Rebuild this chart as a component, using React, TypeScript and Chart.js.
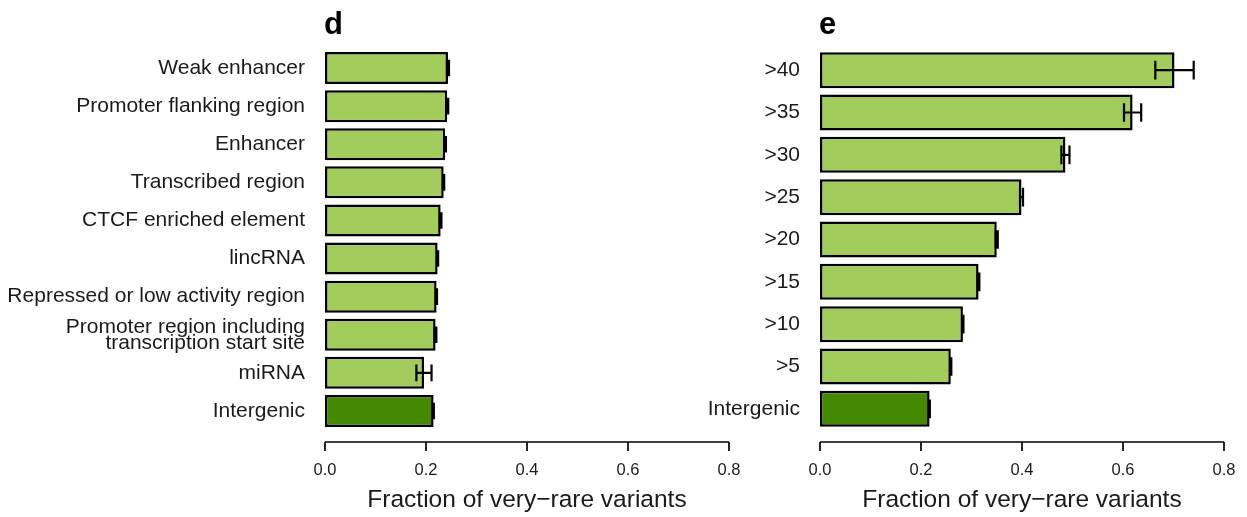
import React, { useEffect, useRef } from 'react';
import { Chart, registerables } from 'chart.js';

Chart.register(...registerables);

// ---------- data ----------
const leftCategories: (string | string[])[] = [
  'Weak enhancer',
  'Promoter flanking region',
  'Enhancer',
  'Transcribed region',
  'CTCF enriched element',
  'lincRNA',
  'Repressed or low activity region',
  ['Promoter region including', 'transcription start site'],
  'miRNA',
  'Intergenic',
];
const leftValues = [0.2435, 0.242, 0.238, 0.235, 0.229, 0.223, 0.221, 0.219, 0.196, 0.215];
const leftErrors = [0.002, 0.002, 0.0015, 0.001, 0.0015, 0.001, 0.0008, 0.0015, 0.015, 0.0005];

const rightCategories: string[] = ['>40', '>35', '>30', '>25', '>20', '>15', '>10', '>5', 'Intergenic'];
const rightValues = [0.702, 0.619, 0.486, 0.399, 0.35, 0.314, 0.283, 0.259, 0.217];
const rightErrors = [0.038, 0.017, 0.008, 0.003, 0.002, 0.0015, 0.001, 0.001, 0.0005];

const tickValues = [0, 0.2, 0.4, 0.6, 0.8];
const tickLabels = ['0.0', '0.2', '0.4', '0.6', '0.8'];
const axisTitle = 'Fraction of very\u2212rare variants';
const panelLetters = ['d', 'e'];

// ---------- styles ----------
const LIGHT = '#A2CC5C';
const DARK = '#458900';
const FONT = "'Liberation Sans', Arial, Helvetica, sans-serif";

const overlayPlugin = {
  id: 'overlay',
  afterDatasetsDraw(chart: any, _args: any, opts: any) {
    const ctx: CanvasRenderingContext2D = chart.ctx;
    const xs = chart.scales.x;
    const meta = chart.getDatasetMeta(0);
    const vals = chart.data.datasets[0].data as number[];
    const errs: number[] = opts.errors;
    const area = chart.chartArea;
    ctx.save();
    // error bars
    ctx.strokeStyle = '#000';
    ctx.lineWidth = 2.2;
    meta.data.forEach((bar: any, i: number) => {
      const e = errs[i];
      const lo = xs.getPixelForValue(vals[i] - e);
      const hi = xs.getPixelForValue(vals[i] + e);
      const y = bar.y;
      const h = bar.height * 0.26;
      ctx.beginPath();
      ctx.moveTo(lo, y);
      ctx.lineTo(hi, y);
      ctx.moveTo(lo, y - h);
      ctx.lineTo(lo, y + h);
      ctx.moveTo(hi, y - h);
      ctx.lineTo(hi, y + h);
      ctx.stroke();
    });
    // x axis (R style, detached)
    const axisY = area.bottom + 12;
    const x0 = xs.getPixelForValue(tickValues[0]);
    const x1 = xs.getPixelForValue(tickValues[tickValues.length - 1]);
    ctx.strokeStyle = '#000';
    ctx.lineWidth = 1.7;
    ctx.beginPath();
    ctx.moveTo(x0, axisY);
    ctx.lineTo(x1, axisY);
    tickValues.forEach((v) => {
      const px = xs.getPixelForValue(v);
      ctx.moveTo(px, axisY);
      ctx.lineTo(px, axisY + 9);
    });
    ctx.stroke();
    ctx.fillStyle = '#1a1a1a';
    ctx.textAlign = 'center';
    ctx.textBaseline = 'middle';
    ctx.font = `16.5px ${FONT}`;
    tickValues.forEach((v, i) => {
      ctx.fillText(tickLabels[i], xs.getPixelForValue(v), axisY + 28);
    });
    ctx.font = `24.5px ${FONT}`;
    ctx.fillText(axisTitle, xs.getPixelForValue(0.4), axisY + 58);
    // panel letter
    ctx.font = `bold 31px ${FONT}`;
    ctx.textAlign = 'left';
    ctx.textBaseline = 'alphabetic';
    ctx.fillStyle = '#000';
    ctx.fillText(opts.letter, area.left - 1, 34);
    ctx.restore();
  },
};

function makeChart(
  canvas: HTMLCanvasElement,
  cats: (string | string[])[],
  vals: number[],
  errs: number[],
  yWidth: number,
  padRight: number,
  barPct: number,
  letter: string
) {
  const colors = cats.map((c) => (c === 'Intergenic' ? DARK : LIGHT));
  return new Chart(canvas, {
    type: 'bar',
    data: {
      labels: cats as any,
      datasets: [
        {
          data: vals,
          backgroundColor: colors,
          borderColor: '#000',
          borderWidth: 2.5,
          borderSkipped: false,
          barPercentage: barPct,
          categoryPercentage: 1,
        },
      ],
    },
    options: {
      indexAxis: 'y',
      responsive: false,
      animation: false,
      devicePixelRatio: 1,
      layout: { padding: { left: 0, right: padRight, top: 49, bottom: 87 } },
      plugins: {
        legend: { display: false },
        tooltip: { enabled: false },
        title: { display: false },
        overlay: { errors: errs, letter },
      } as any,
      scales: {
        x: { display: false, min: 0, max: 0.8 },
        y: {
          grid: { display: false, drawTicks: false },
          border: { display: false },
          ticks: {
            padding: 20,
            color: '#1a1a1a',
            font: { family: FONT, size: 21, lineHeight: 0.76 },
            autoSkip: false,
          },
          afterFit: (scale: any) => {
            scale.width = yWidth;
          },
        },
      },
    },
    plugins: [overlayPlugin],
  });
}

export default function App() {
  const leftRef = useRef<HTMLCanvasElement>(null);
  const rightRef = useRef<HTMLCanvasElement>(null);

  useEffect(() => {
    document.body.style.margin = '0';
    const c1 = makeChart(leftRef.current!, leftCategories, leftValues, leftErrors, 325, 31, 0.84, panelLetters[0]);
    const c2 = makeChart(rightRef.current!, rightCategories, rightValues, rightErrors, 120, 23, 0.85, panelLetters[1]);
    return () => {
      c1.destroy();
      c2.destroy();
    };
  }, []);

  return (
    <div style={{ position: 'absolute', left: 0, top: 0, width: 1247, height: 517, background: '#fff' }}>
      <canvas ref={leftRef} width={760} height={517} style={{ position: 'absolute', left: 0, top: 0 }} />
      <canvas ref={rightRef} width={547} height={517} style={{ position: 'absolute', left: 700, top: 0 }} />
    </div>
  );
}
